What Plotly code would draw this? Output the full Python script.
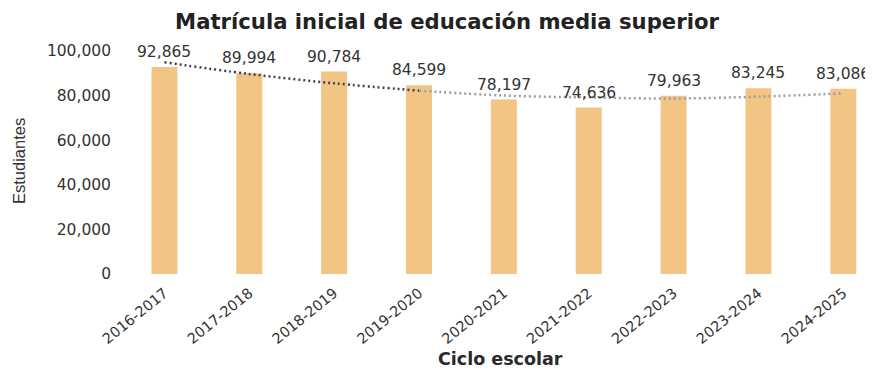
import plotly.graph_objects as go

# ---- data ----
categories = ["2016-2017", "2017-2018", "2018-2019", "2019-2020", "2020-2021",
              "2021-2022", "2022-2023", "2023-2024", "2024-2025"]
students = [92865, 89994, 90784, 84599, 78197, 74636, 79963, 83245, 83086]
# dotted trend line
trend = [94930, 89690, 85520, 82200, 80040, 79150, 78700, 79510, 81030]
y_tick_values = [0, 20000, 40000, 60000, 80000, 100000]
y_tick_labels = ["0", "20,000", "40,000", "60,000", "80,000", "100,000"]

title_text = "Matrícula inicial de educación media superior"
x_title = "Ciclo escolar"
y_title = "Estudiantes"

BAR_COLOR = "#F3C584"
FONT = "DejaVu Sans"
OFF = 8  # page body margin in the browser
W, H = 873 - OFF, 368 - OFF
ML, MR, MT = 122 - OFF, 0, 51 - OFF
MB = H - (274 - OFF)

fig = go.Figure()
fig.add_trace(go.Bar(
    x=categories, y=students, marker=dict(color=BAR_COLOR, line=dict(width=0)),
    width=0.306, hoverinfo="x+y", cliponaxis=False, showlegend=False,
))

split = 3
fig.add_trace(go.Scatter(
    x=categories[:split + 1], y=trend[:split + 1], mode="lines",
    line=dict(color="#3b4252", width=2.5, dash="2px,3px", shape="spline"),
    showlegend=False, hoverinfo="skip",
))
fig.add_trace(go.Scatter(
    x=categories[split:], y=trend[split:], mode="lines",
    line=dict(color="#9a9fa8", width=2.5, dash="2px,3px", shape="spline"),
    showlegend=False, hoverinfo="skip",
))

annotations = []
for c, v in zip(categories, students):
    annotations.append(dict(
        x=c, y=v, xref="x", yref="y", text=f"{v:,}", showarrow=False,
        yshift=15, yanchor="middle",
        font=dict(family=FONT, size=15.5, color="#333333"),
    ))

plot_w = W - ML - MR
plot_h = H - MT - MB
annotations.append(dict(
    x=(19 - 122) / plot_w, y=(274 - 161) / plot_h, xref="paper", yref="paper",
    text=y_title, textangle=-90, showarrow=False, xanchor="center", yanchor="middle",
    font=dict(family="Liberation Sans", size=16.5, color="#333333"),
))
annotations.append(dict(
    x=(500 - 122) / plot_w, y=(274 - 359) / plot_h, xref="paper", yref="paper",
    text=f"<b>{x_title}</b>", showarrow=False, xanchor="center", yanchor="middle",
    font=dict(family=FONT, size=17.5, color="#2a2a2a"),
))

fig.update_layout(
    width=W, height=H,
    margin=dict(l=ML, r=MR, t=MT, b=MB, autoexpand=False),
    paper_bgcolor="white", plot_bgcolor="white",
    title=dict(text=f"<b>{title_text}</b>", x=(447 - OFF) / W, xref="container",
               xanchor="center", y=1 - (22 - OFF) / H, yref="container", yanchor="middle",
               font=dict(family=FONT, size=21.2, color="#222222")),
    xaxis=dict(range=[-0.5, 8.35], showgrid=False, showline=False, zeroline=False,
               ticks="", tickangle=-39, automargin=False, ticklabelstandoff=7,
               tickfont=dict(family=FONT, size=14.5, color="#333333")),
    yaxis=dict(range=[0, 100000], showgrid=False, showline=False, zeroline=False,
               tickvals=y_tick_values, ticktext=y_tick_labels, ticks="",
               ticklabelstandoff=10, automargin=False,
               tickfont=dict(family=FONT, size=15.5, color="#333333")),
    annotations=annotations,
    bargap=0.69,
)

fig.write_html("out.html")
